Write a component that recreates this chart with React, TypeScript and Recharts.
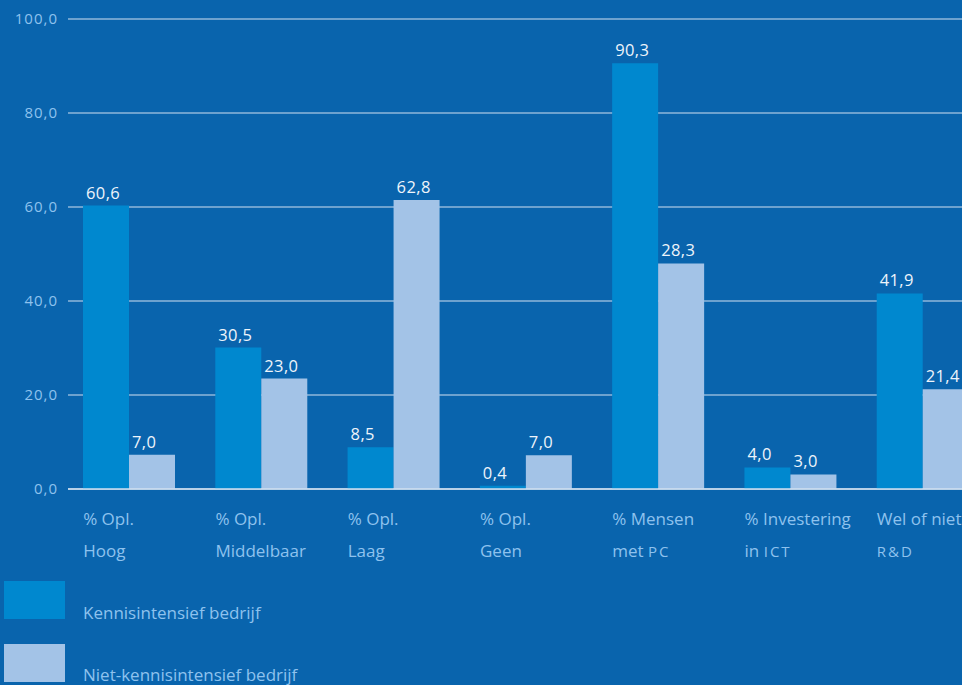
import { BarChart, Bar, XAxis, YAxis, CartesianGrid, Legend, LabelList } from 'recharts';

// tick labels under each group; caps part is drawn in small caps
const tickTop = ['% Opl.', '% Opl.', '% Opl.', '% Opl.', '% Mensen', '% Investering', 'Wel of niet'];
const tickBottom = ['Hoog', 'Middelbaar', 'Laag', 'Geen', 'met ', 'in ', ''];
const tickCaps = ['', '', '', '', 'PC', 'ICT', 'R&D'];

// bar heights as drawn
const kennisValues = [60.3, 30.1, 8.9, 0.7, 90.6, 4.6, 41.6];
const nietValues = [7.3, 23.5, 61.5, 7.2, 48.0, 3.1, 21.2];
// printed value labels
const kennisLabels = [60.6, 30.5, 8.5, 0.4, 90.3, 4.0, 41.9];
const nietLabels = [7.0, 23.0, 62.8, 7.0, 28.3, 3.0, 21.4];

const yTicks = [0, 20, 40, 60, 80, 100];

const BG = '#0964ad';
const KENNIS = '#0088cf';
const NIET = '#a3c3e7';
const TEXT = '#8ec2ee';
const FONT = '"Open Sans", Lato, sans-serif';

const data = tickTop.map((t, i) => ({
  cat: `${t} ${tickBottom[i]}${tickCaps[i]}`,
  kennis: kennisValues[i],
  niet: nietValues[i],
  kLabel: kennisLabels[i],
  nLabel: nietLabels[i],
}));

const fmt = (v: number) => v.toFixed(1).replace('.', ',');

const CatTick = (props: any) => {
  const { x, y, index } = props;
  const left = x - 46;
  return (
    <g>
      <text x={left} y={y + 22} dy="0.35em" fill={TEXT} fontSize={17} fontFamily={FONT}>
        {tickTop[index]}
      </text>
      <text x={left} y={y + 54} dy="0.35em" fill={TEXT} fontSize={17} fontFamily={FONT}>
        {tickBottom[index]}
        {tickCaps[index] && (
          <tspan style={{ fontSize: 15 }} letterSpacing={2}>{tickCaps[index]}</tspan>
        )}
      </text>
    </g>
  );
};

const ValueLabel = (props: any) => {
  const { x, y, value } = props;
  return (
    <text x={x + 3} y={y - 7} fill="#eef4fb" fontSize={16.5} fontFamily={FONT} letterSpacing={0.4}>
      {fmt(Number(value))}
    </text>
  );
};

const LegendBox = (props: any) => {
  const items = props.payload || [];
  return (
    <div style={{ position: 'relative', width: 400, height: 115, fontFamily: FONT }}>
      {items.map((it: any, i: number) => (
        <div key={it.value}>
          <div style={{ position: 'absolute', left: 4, top: 11 + i * 63, width: 61, height: 38, background: it.color }} />
          <div style={{ position: 'absolute', left: 83, top: 31 + i * 62, lineHeight: '24px', fontSize: 17, color: TEXT, whiteSpace: 'nowrap' }}>
            {it.value}
          </div>
        </div>
      ))}
    </div>
  );
};

export default function App() {
  return (
    <div style={{ position: 'absolute', left: 0, top: 0, width: 962, height: 685, overflow: 'hidden', background: BG }}>
      <BarChart width={989} height={685} data={data} margin={{ top: 19, right: 0, left: 0, bottom: 0 }} barGap={0} barSize={46}>
        <CartesianGrid vertical={false} stroke="#d2e0f1" strokeWidth={1} />
        <XAxis
          dataKey="cat"
          height={196}
          interval={0}
          padding={{ left: -5, right: 0 }}
          axisLine={{ stroke: '#d2e0f1', strokeWidth: 1.5 }}
          tickLine={false}
          tick={<CatTick />}
        />
        <YAxis
          width={68}
          domain={[0, 100]}
          ticks={yTicks}
          tickFormatter={fmt}
          axisLine={false}
          tickLine={false}
          tickMargin={4}
          tick={{ fill: TEXT, fontSize: 15, fontFamily: FONT, letterSpacing: 1 }}
        />
        <Legend
          layout="vertical"
          align="center"
          verticalAlign="middle"
          wrapperStyle={{ left: 0, top: 570, width: 400, height: 115 }}
          content={<LegendBox />}
        />
        <Bar dataKey="kennis" name="Kennisintensief bedrijf" fill={KENNIS} isAnimationActive={false}>
          <LabelList dataKey="kLabel" content={<ValueLabel />} />
        </Bar>
        <Bar dataKey="niet" name="Niet-kennisintensief bedrijf" fill={NIET} isAnimationActive={false}>
          <LabelList dataKey="nLabel" content={<ValueLabel />} />
        </Bar>
      </BarChart>
    </div>
  );
}
